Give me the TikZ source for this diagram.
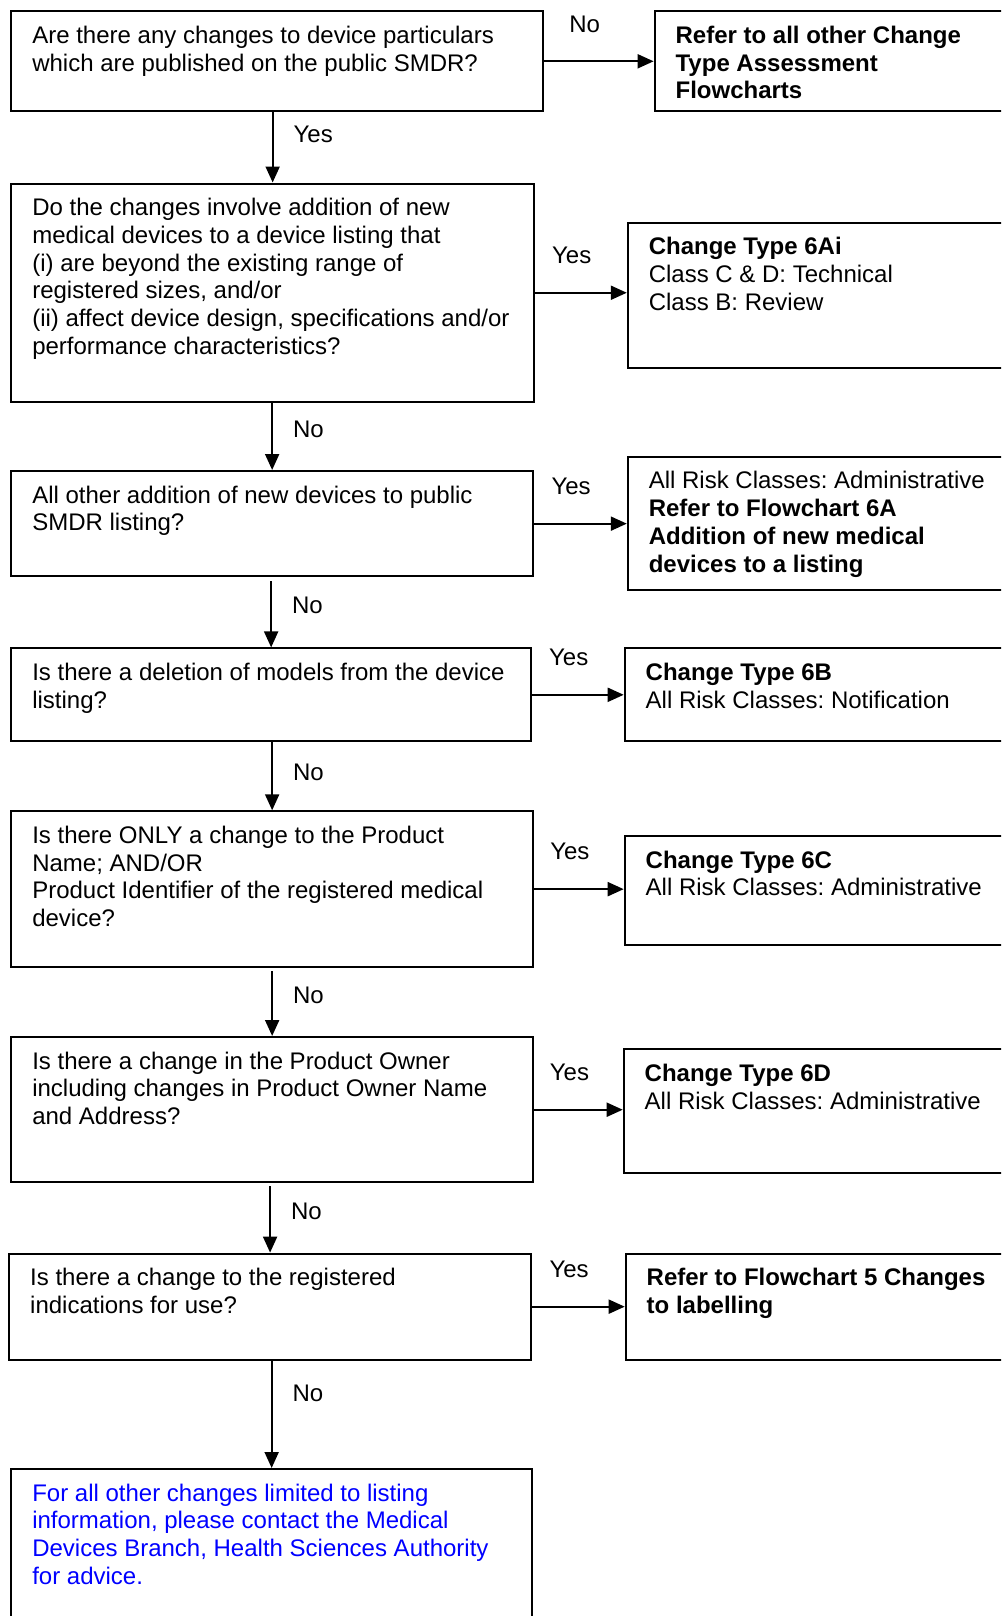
\documentclass[tikz,border=0pt]{standalone}
\usepackage{fontspec}
\setmainfont{Liberation Sans}
\usetikzlibrary{arrows.meta}
\frenchspacing
\tikzset{
  qbox/.style    = {shape=rectangle, draw, line width=1pt,
                    anchor=north west, align=flush left,
                    inner xsep=10.5pt, inner ysep=0pt, text height=16pt,
                    font=\fontsize{12}{13.9}\selectfont\frenchspacing},
  boxsize/.style 2 args = {text width={#1*0.5pt-21pt},
                           text depth={#2*0.5pt-16pt}},
  rbox/.style    = {qbox, boxsize={420}{#1}},
  arr/.style     = {draw, line width=1pt, -{Triangle[length=8pt,width=7pt]}},
  lbl/.style     = {inner sep=0pt, font=\fontsize{12}{13.9}\selectfont}
}

\begin{document}
\begin{tikzpicture}[x=0.5pt, y=-0.5pt]
 \useasboundingbox (0,0) rectangle (1001,1616);
 \clip (0,0) rectangle (1001,1616);
 % questions on the left
 \node [qbox, boxsize={532}{100}] (q1) at (10.3,10.3)
   {Are there any changes to device particulars\\which are published on the public SMDR?};
 \node [qbox, boxsize={522.7}{218.5}] (q2) at (10.3,182.5)
   {Do the changes involve addition of new\\medical devices to a device listing that\\(i) are beyond the existing range of\\registered sizes, and/or\\(ii) affect device design, specifications and/or\\performance characteristics?};
 \node [qbox, boxsize={521.7}{105.3}] (q3) at (10.3,470)
   {All other addition of new devices to public\\SMDR listing?};
 \node [qbox, boxsize={519.7}{92.8}] (q4) at (10.3,647.4)
   {Is there a deletion of models from the device\\listing?};
 \node [qbox, boxsize={521.7}{155.7}] (q5) at (10.3,810.3)
   {Is there ONLY a change to the Product\\Name; AND/OR\\Product Identifier of the registered medical\\device?};
 \node [qbox, boxsize={521.7}{145.4}] (q6) at (10.3,1036)
   {Is there a change in the Product Owner\\including changes in Product Owner Name\\and Address?};
 \node [qbox, boxsize={521.8}{106.1}] (q7) at (8.2,1252.6)
   {Is there a change to the registered\\indications for use?};
 \node [qbox, boxsize={520.7}{200}, text=blue] (q8) at (10.3,1468)
   {For all other changes limited to listing\\information, please contact the Medical\\Devices Branch, Health Sciences Authority\\for advice.};
 % outcomes on the right
 \node [rbox=100] (r1) at (653.6,10.3)
   {\textbf{Refer to all other Change}\\\textbf{Type Assessment}\\\textbf{Flowcharts}};
 \node [rbox=145.4] (r2) at (626.8,221.6)
   {\textbf{Change Type 6Ai}\\Class C \& D: Technical\\Class B: Review};
 \node [rbox=132.9] (r3) at (626.8,455.7)
   {All Risk Classes: Administrative\\\textbf{Refer to Flowchart 6A}\\\textbf{Addition of new medical}\\\textbf{devices to a listing}};
 \node [rbox=92.8] (r4) at (623.7,647.4)
   {\textbf{Change Type 6B}\\All Risk Classes: Notification};
 \node [rbox=109.3] (r5) at (623.7,835)
   {\textbf{Change Type 6C}\\All Risk Classes: Administrative};
 \node [rbox=123.6] (r6) at (622.7,1048.4)
   {\textbf{Change Type 6D}\\All Risk Classes: Administrative};
 \node [rbox=106.1] (r7) at (624.7,1252.6)
   {\textbf{Refer to Flowchart 5 Changes}\\\textbf{to labelling}};
 % connectors
 \draw [arr] (q1.east) -- (q1.east -| r1.west) node [lbl, pos=0.37, above=14pt] {No};
 \draw [arr] (q1.south -| q2.north) -- (q2.north) node [lbl, pos=0.32, right=10pt] {Yes};
 \draw [arr] (q2.east) -- (q2.east -| r2.west) node [lbl, pos=0.4, above=14pt] {Yes};
 \draw [arr] (q2.south -| q3.north) -- (q3.north) node [lbl, pos=0.4, right=10pt] {No};
 \draw [arr] (q3.east) -- (q3.east -| r3.west) node [lbl, pos=0.4, above=14pt] {Yes};
 \draw [arr, shorten <=2pt] (q3.south -| q4.north) -- (q4.north) node [lbl, pos=0.4, right=10pt] {No};
 \draw [arr] (q4.east) -- (q4.east -| r4.west) node [lbl, pos=0.4, above=14pt] {Yes};
 \draw [arr] (q4.south -| q5.north) -- (q5.north) node [lbl, pos=0.44, right=10pt] {No};
 \draw [arr] (q5.east) -- (q5.east -| r5.west) node [lbl, pos=0.4, above=14pt] {Yes};
 \draw [arr, shorten <=1.5pt] (q5.south -| q6.north) -- (q6.north) node [lbl, pos=0.4, right=10pt] {No};
 \draw [arr] (q6.east) -- (q6.east -| r6.west) node [lbl, pos=0.4, above=14pt] {Yes};
 \draw [arr, shorten <=1.5pt] (q6.south -| q7.north) -- (q7.north) node [lbl, pos=0.4, right=10pt] {No};
 \draw [arr] (q7.east) -- (q7.east -| r7.west) node [lbl, pos=0.4, above=14pt] {Yes};
 \draw [arr] (q7.south -| q8.north) -- (q8.north) node [lbl, pos=0.3, right=10pt] {No};
\end{tikzpicture}
\end{document}
